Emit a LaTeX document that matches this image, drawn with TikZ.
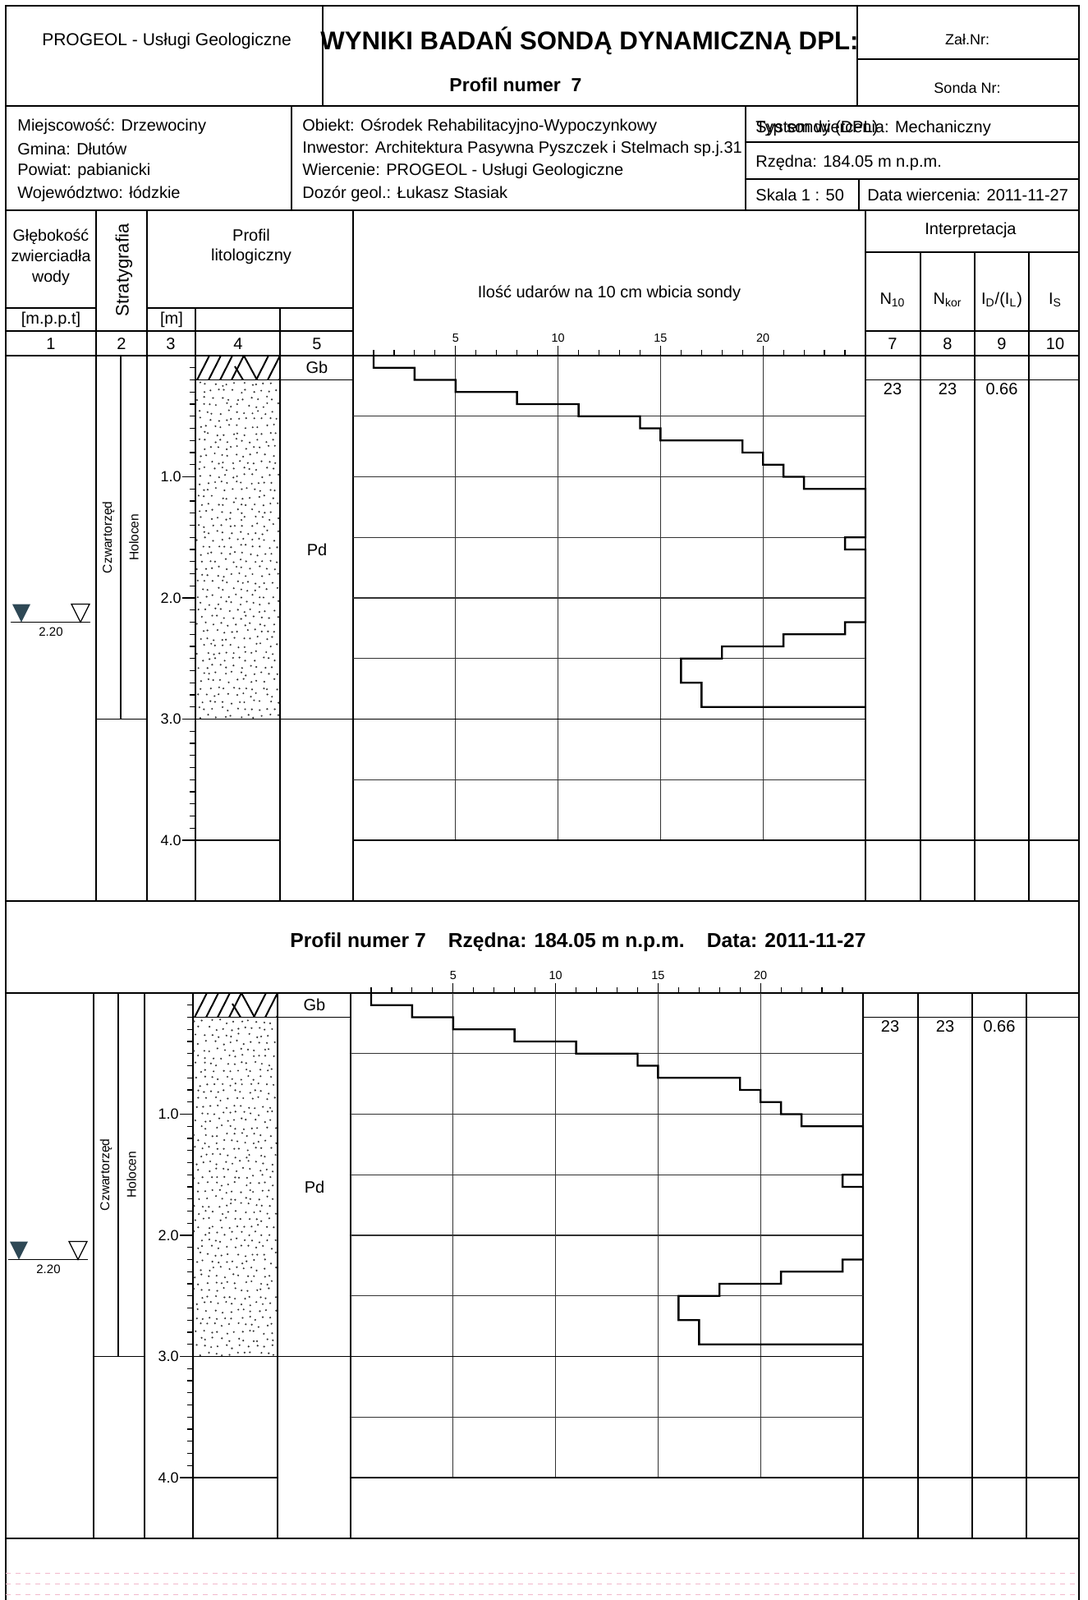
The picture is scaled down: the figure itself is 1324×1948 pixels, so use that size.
\documentclass[tikz,border=0pt]{standalone}
\usepackage{fontspec}
\setmainfont{Liberation Sans}
\usetikzlibrary{positioning}
\definecolor{woda}{HTML}{2E4855}
\definecolor{skan}{HTML}{F2B8CC}

\begin{document}
\begin{tikzpicture}[x=0.5pt,y=-0.5pt,
	ramka/.style={line width=1.1pt},
	linia/.style={line width=0.6pt},
	siatka/.style={line width=0.55pt,black!80},
	profil/.style={line width=1.2pt},
	tekst/.style={inner sep=0pt,font=\fontsize{10}{12}\selectfont},
	lewy/.style={tekst,anchor=west},
	maly/.style={inner sep=0pt,font=\fontsize{7.2}{8}\selectfont},
	pion/.style={inner sep=0pt,rotate=90,font=\fontsize{7.8}{9}\selectfont},
	tytul/.style={inner sep=0pt,font=\fontsize{15.6}{18}\selectfont\bfseries},
	kropka/.style={fill=black!80}]
	\useasboundingbox (0,0) rectangle (1324,1948);
	\def\skalaX{24.96}
	\def\skalaY{147.5}

	% ramka i naglowek
	\draw[ramka] (7,1948) -- (7,7) -- (1314,7) -- (1314,1948);
	\draw[linia] (393,7) -- (393,129) (1044,7) -- (1044,129) (1044,72) -- (1314,72);
	\draw[linia] (7,129) -- (1314,129);
	\node[tekst,font=\fontsize{10.5}{12}\selectfont] (firma) at (203,50) {PROGEOL - Usługi Geologiczne};
	\node[tytul] (tytul) at (718,50) {WYNIKI BADAŃ SONDĄ DYNAMICZNĄ DPL:};
	\node[tekst,font=\fontsize{11.5}{14}\selectfont\bfseries] (profil) at (628,103) {Profil numer\ \ 7};
	\node[tekst,font=\fontsize{9}{11}\selectfont] (zal) at (1178,48) {Zał.Nr:};
	\node[tekst,font=\fontsize{9}{11}\selectfont] (sonda) at (1178,107) {Sonda Nr:};

	% dane otworu
	\draw[linia] (355,129) -- (355,256) (908,129) -- (908,256)
		(908,173) -- (1314,173) (908,218) -- (1314,218) (1046,218) -- (1046,256);
	\node[lewy] (miejsc) at (21,154) {Miejscowość: Drzewociny};
	\node[lewy] (gmina) at (21,181) {Gmina: Dłutów};
	\node[lewy] (powiat) at (21,208) {Powiat: pabianicki};
	\node[lewy] (wojew) at (21,236) {Województwo: łódzkie};
	\node[lewy] (obiekt) at (368,154) {Obiekt: Ośrodek Rehabilitacyjno-Wypoczynkowy};
	\node[lewy] (inwestor) at (368,181) {Inwestor: Architektura Pasywna Pyszczek i Stelmach sp.j.31};
	\node[lewy] (wiercenie) at (368,208) {Wiercenie: PROGEOL - Usługi Geologiczne};
	\node[lewy] (dozor) at (368,236) {Dozór geol.: Łukasz Stasiak};
	\node[lewy] (system) at (920,156) {System wiercenia: Mechaniczny};
	\node[lewy] (typ) at (920,156) {Typ sondy (DPL)};
	\node[lewy] (rzedna) at (920,198) {Rzędna: 184.05 m n.p.m.};
	\node[lewy] (skala) at (920,237) {Skala 1 : 50};
	\node[lewy] (data) at (1056,237) {Data wiercenia: 2011-11-27};

	% glowka tabeli
	\draw[linia] (7,256) -- (1314,256);
	\draw[linia] (7,375) -- (117,375) (179,375) -- (430,375) (7,403) -- (430,403)
		(1054,307) -- (1314,307) (1054,403) -- (1314,403);
	\draw[linia] (117,256) -- (117,433) (179,256) -- (179,433) (430,256) -- (430,433)
		(1054,256) -- (1054,433) (238,375) -- (238,433) (341,375) -- (341,433);
	\foreach \x in {1121,1187,1253}
		\draw[linia] (\x,307) -- (\x,433);
	\node[tekst,align=center,font=\fontsize{9.8}{12.5}\selectfont] (glebokosc) at (62,313) {Głębokość\\zwierciadła\\wody};
	\node[tekst,rotate=90,font=\fontsize{11}{13}\selectfont] (strat) at (151,329) {Stratygrafia};
	\node[tekst,align=center,font=\fontsize{10}{12}\selectfont] (lito) at (306,300) {Profil\\litologiczny};
	\node[tekst] (jm1) at (62,389) {[m.p.p.t]};
	\node[tekst] (jm3) at (209,389) {[m]};
	\foreach \x/\t in {62/1,148/2,208/3,290/4,386/5,1087/7,1154/8,1220/9,1285/10}
		\node[tekst] (nr\t) at (\x,419) {\t};
	\node[tekst] (udary) at (742,357) {Ilość udarów na 10 cm wbicia sondy};
	\node[tekst] (interp) at (1182,280) {Interpretacja};
	\node[tekst] (nten) at (1087,365) {N\textsubscript{10}};
	\node[tekst] (nkor) at (1154,365) {N\textsubscript{kor}};
	\node[tekst] (idil) at (1220,365) {I\textsubscript{D}/(I\textsubscript{L})};
	\node[tekst] (is) at (1285,365) {I\textsubscript{S}};

	% tytul drugiego profilu
	\node[tekst,font=\fontsize{12.3}{15}\selectfont\bfseries] (profil2) at (704,1147)
		{Profil numer 7\hspace{1.1em}Rzędna: 184.05 m n.p.m.\hspace{1.1em}Data: 2011-11-27};

	% oba profile
	\foreach \yo/\xs in {433/0,1209/-3}{
		\draw[linia] (7,\yo) -- (1314,\yo);
		\draw[linia] (7,\yo+664) -- (1314,\yo+664);
		\begin{scope}[shift={(\xs,0)}]
			% podzialka
			\foreach \i in {1,...,24}
				\draw[linia] (430+\i*\skalaX,\yo) -- ++(0,-7);
			\foreach \i in {5,10,15,20}{
				\draw[linia] (430+\i*\skalaX,\yo) -- ++(0,-12);
				\node[maly] (os\i x\yo) at (430+\i*\skalaX,\yo-21) {\i};
			}
			% kolumny
			\foreach \x in {117,179,238,341,430,1054,1121,1187,1253}
				\draw[linia] (\x,\yo) -- (\x,\yo+664);
			\draw[linia] (147,\yo) -- (147,\yo+3*\skalaY);
			% siatka wykresu
			\foreach \d in {0.5,1,...,4}
				\draw[siatka] (430,\yo+\d*\skalaY) -- (1054,\yo+\d*\skalaY);
			\foreach \i in {5,10,15,20}
				\draw[siatka] (430+\i*\skalaX,\yo) -- (430+\i*\skalaX,\yo+4*\skalaY);
			% granice warstw
			\draw[linia] (238,\yo+0.2*\skalaY) -- (430,\yo+0.2*\skalaY)
				(1054,\yo+0.2*\skalaY) -- (1314-\xs,\yo+0.2*\skalaY);
			\draw[linia] (117,\yo+3*\skalaY) -- (179,\yo+3*\skalaY)
				(238,\yo+3*\skalaY) -- (1054,\yo+3*\skalaY);
			\draw[linia] (238,\yo+4*\skalaY) -- (341,\yo+4*\skalaY)
				(430,\yo+4*\skalaY) -- (1314-\xs,\yo+4*\skalaY);
			% skala glebokosci
			\foreach \i in {1,...,39}
				\draw[linia] (238,\yo+\i*\skalaY/10) -- ++(-7,0);
			\foreach \d in {1,2,3,4}{
				\draw[linia] (238,\yo+\d*\skalaY) -- ++(-16,0);
				\node[tekst,anchor=east,font=\fontsize{9}{11}\selectfont] (gl\d x\yo) at (221,\yo+\d*\skalaY) {\d.0};
			}
			% glina - Gb
			\begin{scope}
				\clip (238,\yo) rectangle (341,\yo+0.2*\skalaY);
				\foreach \x in {240,254,268,282,312,326,340}
					\draw[line width=1pt] (\x,\yo+0.2*\skalaY) -- ++(15,-0.2*\skalaY);
				\draw[line width=1pt] (297,\yo) -- ++(16,0.2*\skalaY) (286,\yo+13) -- (296,\yo+0.2*\skalaY);
			\end{scope}
			% piasek drobny - Pd
			\foreach \r in {0,...,47}
				\foreach \c in {0,...,10}{
					\pgfmathsetmacro\px{242+\c*9+mod(\r,2)*4.5+rnd*6-3}
					\pgfmathsetmacro\py{\yo+0.2*\skalaY+5+\r*8.6+rnd*5-2.5}
					\fill[kropka] (\px,\py) circle (0.6pt);
				}
			\node[tekst] (gb x\yo) at (386,\yo+0.1*\skalaY) {Gb};
			\node[tekst] (pd x\yo) at (386,\yo+1.6*\skalaY) {Pd};
			\node[pion] (czw x\yo) at (132,\yo+1.5*\skalaY) {Czwartorzęd};
			\node[pion] (hol x\yo) at (163,\yo+1.5*\skalaY) {Holocen};
			% zwierciadlo wody
			\fill[woda] (15,\yo+2.2*\skalaY-22) -- (37,\yo+2.2*\skalaY-22) -- (26,\yo+2.2*\skalaY) -- cycle;
			\draw[linia] (87,\yo+2.2*\skalaY-22) -- (109,\yo+2.2*\skalaY-22) -- (98,\yo+2.2*\skalaY) -- cycle;
			\draw[linia] (13,\yo+2.2*\skalaY) -- (110,\yo+2.2*\skalaY);
			\node[maly,font=\fontsize{7.5}{9}\selectfont] (zw x\yo) at (62,\yo+2.2*\skalaY+12) {2.20};
			% wyniki sondowania
			\draw[profil] (430+\skalaX,\yo)
				\foreach \v [count=\i] in {1,3,5,8,11,14,15,19,20,21,22,25,25,25,25,24,25,25,25,25,25,25,24,21,18,16,16,17,17}
					{ -- (430+\v*\skalaX,\yo+\i*\skalaY/10-\skalaY/10) -- (430+\v*\skalaX,\yo+\i*\skalaY/10) }
				-- (1054,\yo+2.9*\skalaY);
			\node[tekst] (n x\yo) at (1087,\yo+41) {23};
			\node[tekst] (nk x\yo) at (1154,\yo+41) {23};
			\node[tekst] (id x\yo) at (1220,\yo+41) {0.66};
		\end{scope}
	}

	% slady skanu
	\foreach \y in {1915,1928,1941}
		\draw[skan,dashed,line width=0.4pt] (7,\y) -- (1314,\y);
\end{tikzpicture}
\end{document}
